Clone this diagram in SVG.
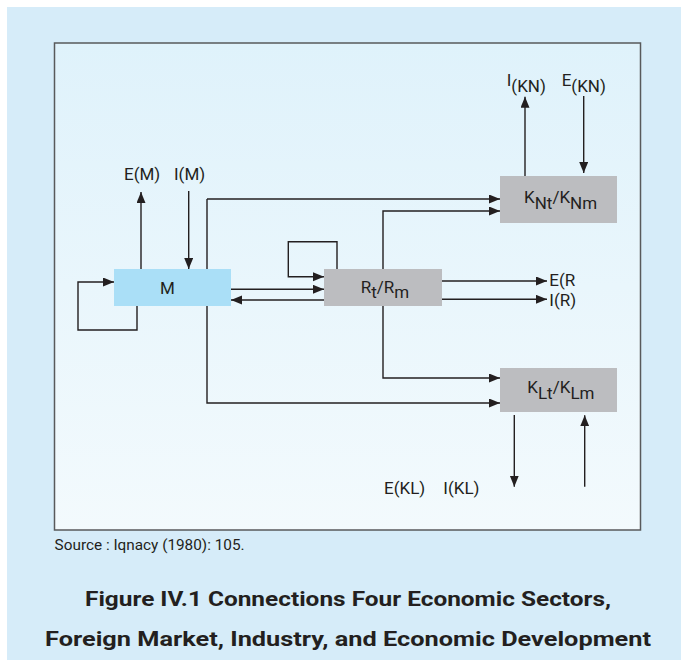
<svg xmlns="http://www.w3.org/2000/svg" width="681" height="660" viewBox="0 0 681 660">
<defs>
<linearGradient id="ibg" x1="0" y1="0" x2="0" y2="1">
<stop offset="0" stop-color="#dff2fb"/>
<stop offset="1" stop-color="#f3fafd"/>
</linearGradient>
<marker id="ah" markerUnits="userSpaceOnUse" markerWidth="12" markerHeight="10" refX="11" refY="4.5" orient="auto">
<path d="M0,0 L11,4.5 L0,9 z" fill="#231f20"/>
</marker>
<style>
.t{font-family:Roboto,"Liberation Sans",sans-serif;fill:#231f20}
.lbl{font-size:17px}
.box{font-size:17px}
.cn{fill:none;stroke:#231f20;stroke-width:1.4;marker-end:url(#ah)}
.ln{fill:none;stroke:#231f20;stroke-width:1.4}
.gray{fill:#bcbdc0}
</style>
</defs>
<rect x="7" y="7" width="674" height="653" fill="#d6ecf9"/>
<rect x="54.5" y="43" width="586" height="487" fill="url(#ibg)" stroke="#58595b" stroke-width="1.5"/>

<g id="connectors">
<path class="ln" d="M207,287 V199"/>
<path class="cn" d="M207,199 H500"/>
<path class="cn" d="M207,287 V403 H500"/>
<path class="cn" d="M383,287 V211 H500"/>
<path class="cn" d="M383,287 V378 H500"/>
<path class="cn" d="M141,269 V192"/>
<path class="cn" d="M188.7,191 V269"/>
<path class="cn" d="M137,306 V330 H78 V282 H114"/>
<path class="cn" d="M231,289.3 H324"/>
<path class="cn" d="M324,300 H231"/>
<path class="cn" d="M337,269 V241.7 H288.3 V276.7 H324"/>
<path class="cn" d="M442,281 H547"/>
<path class="cn" d="M442,299.3 H547"/>
<path class="cn" d="M525,176 V96.7"/>
<path class="cn" d="M583.7,96 V173"/>
<path class="cn" d="M514.3,415 V486.7"/>
<path class="cn" d="M584.7,486.7 V415.3"/>
</g>

<g id="node-M">
<rect x="114" y="269" width="117" height="37" fill="#aadff7"/>
<text class="t box" x="167.5" y="293.5" text-anchor="middle">M</text>
</g>
<g id="node-R">
<rect class="gray" x="324" y="269" width="118" height="37"/>
<text class="t box" x="360.7" y="292.5">R<tspan dy="5">t</tspan><tspan dy="-5">/R</tspan><tspan dy="5">m</tspan></text>
</g>
<g id="node-KN">
<rect class="gray" x="500" y="176" width="117" height="47"/>
<text class="t box" x="524" y="203">K<tspan dy="6">Nt</tspan><tspan dy="-6">/K</tspan><tspan dy="6">Nm</tspan></text>
</g>
<g id="node-KL">
<rect class="gray" x="500" y="368" width="117" height="44"/>
<text class="t box" x="527.3" y="393">K<tspan dy="6">Lt</tspan><tspan dy="-6">/K</tspan><tspan dy="6">Lm</tspan></text>
</g>

<g id="labels">
<text class="t lbl" x="124" y="180">E(M)</text>
<text class="t lbl" x="174" y="180">I(M)</text>
<text class="t lbl" x="506.7" y="86">I<tspan dy="6">(KN)</tspan></text>
<text class="t lbl" x="561.7" y="86">E<tspan dy="6">(KN)</tspan></text>
<text class="t lbl" x="549.3" y="286" font-size="16">E(R</text>
<text class="t lbl" x="549.3" y="306" font-size="16">I(R)</text>
<text class="t lbl" x="384" y="494">E(KL)</text>
<text class="t lbl" x="443.3" y="494">I(KL)</text>
</g>

<text class="t" x="54.6" y="550" font-size="14" fill="#333" textLength="190" lengthAdjust="spacingAndGlyphs">Source : Iqnacy (1980): 105.</text>
<text class="t" x="348" y="606" font-size="21" font-weight="bold" text-anchor="middle" textLength="526" lengthAdjust="spacingAndGlyphs">Figure IV.1 Connections Four Economic Sectors,</text>
<text class="t" x="348" y="646" font-size="21" font-weight="bold" text-anchor="middle" textLength="606" lengthAdjust="spacingAndGlyphs">Foreign Market, Industry, and Economic Development</text>
</svg>
